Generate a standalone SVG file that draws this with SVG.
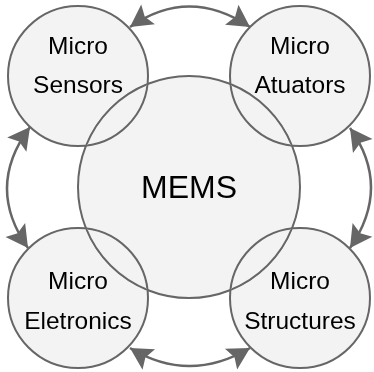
<svg xmlns="http://www.w3.org/2000/svg" width="374" height="372" viewBox="0 0 374 372">
<style>
.node circle{fill:#f3f3f3;stroke:#666666;stroke-width:2;mix-blend-mode:darken}
.lbl{font-family:"Liberation Sans",Arial,sans-serif;font-size:24.5px;fill:#000;text-anchor:middle}
.big{font-size:32px}
.conn path{fill:none;stroke:#666666;stroke-width:2.5;marker-start:url(#ah);marker-end:url(#ah)}
</style>
<defs>
<marker id="ah" markerUnits="userSpaceOnUse" markerWidth="30" markerHeight="30" viewBox="-25 -15 30 30" refX="0" refY="0" orient="auto-start-reverse">
<path d="M0,0 L-22,-12 L-18,0 L-22,12 Z" fill="#666666"/>
</marker>
</defs>
<rect width="374" height="372" fill="#ffffff"/>
<g id="mems" class="node">
<circle cx="189" cy="187" r="111"/>
<text class="lbl big" x="189" y="198">MEMS</text>
</g>
<g id="sensors" class="node">
<circle cx="78" cy="76" r="70"/>
<text class="lbl" x="78" y="54">Micro</text>
<text class="lbl" x="78" y="93">Sensors</text>
</g>
<g id="atuators" class="node">
<circle cx="300" cy="76" r="70"/>
<text class="lbl" x="300" y="54">Micro</text>
<text class="lbl" x="300" y="93">Atuators</text>
</g>
<g id="eletronics" class="node">
<circle cx="78" cy="298" r="70"/>
<text class="lbl" x="78" y="289">Micro</text>
<text class="lbl" x="78" y="329">Eletronics</text>
</g>
<g id="structures" class="node">
<circle cx="300" cy="298" r="70"/>
<text class="lbl" x="300" y="289">Micro</text>
<text class="lbl" x="300" y="329">Structures</text>
</g>
<g id="connectors" class="conn">
<path d="M130,27 Q189,-14 250,27"/>
<path d="M130,348 Q189,384 250,348"/>
<path d="M30,127 Q-15,187 28,248"/>
<path d="M350,128 Q392,187 350,248"/>
</g>
</svg>
